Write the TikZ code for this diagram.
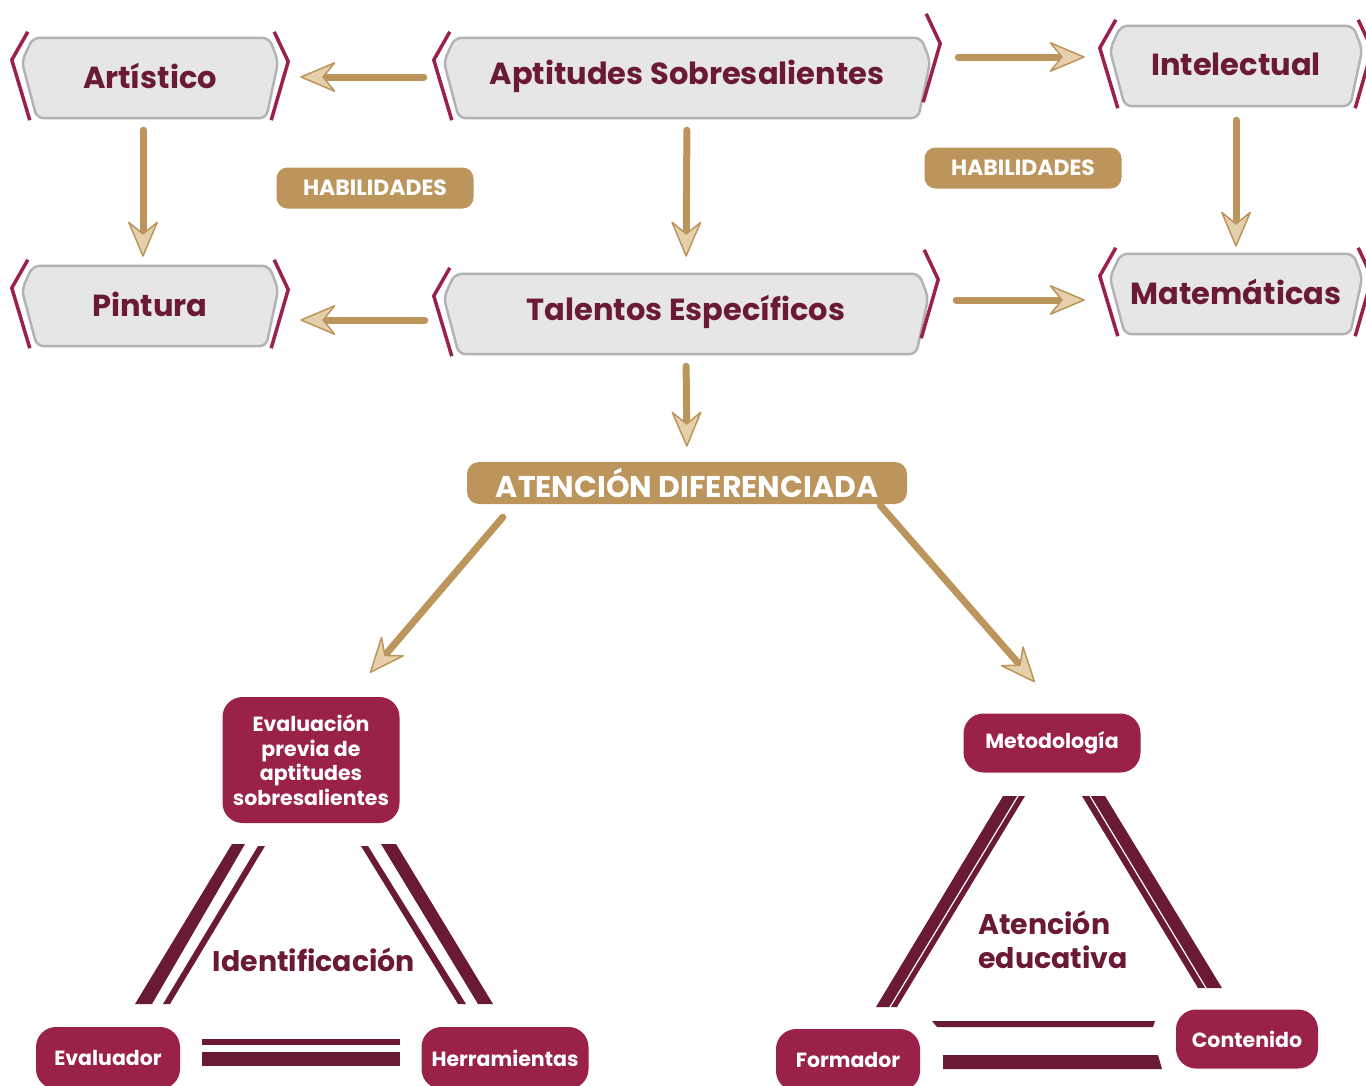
\documentclass[tikz,border=0pt]{standalone}
\usepackage{fontspec}
\setmainfont{Poppins}
\usetikzlibrary{arrows.meta,calc,backgrounds}
\definecolor{frame}{HTML}{9B2247}
\definecolor{txtred}{HTML}{6B1A35}
\definecolor{bar}{HTML}{6A1A33}
\definecolor{gold}{HTML}{BC955C}
\definecolor{tipfill}{HTML}{E6CFAB}
\definecolor{boxgrey}{HTML}{E6E6E6}
\definecolor{linegrey}{HTML}{B3B3B3}
\tikzset{
  hexbox/.style={minimum width=#1, minimum height=80pt, inner sep=0pt,
    text=txtred, font=\fontsize{30.5}{36}\selectfont\bfseries},
  greyframe/.style={fill=boxgrey, draw=linegrey, line width=2.5pt, rounded corners=7pt},
  bracket/.style={draw=frame, line width=3.5pt, line join=round},
  goldpill/.style={fill=gold, text=white, rounded corners=11pt, inner sep=0pt,
    minimum width=197pt, minimum height=41pt, font=\fontsize{22}{26}\selectfont\bfseries},
  redbox/.style={fill=frame, text=white, rounded corners=20pt, inner sep=0pt,
    font=\fontsize{20.5}{24.5}\selectfont\bfseries},
  trilabel/.style={text=txtred, font=\fontsize{28.4}{34}\selectfont\bfseries, inner sep=0pt},
  goldarrow/.style={draw=gold, line width=7pt, line cap=round,
    -{Stealth[length=38pt, width=32pt, inset=13pt, fill=tipfill, line width=1.5pt, round]}}
}
\begin{document}
\begin{tikzpicture}[x=1pt,y=-1pt]
\useasboundingbox (0,0) rectangle (1366,1085);

% upper boxes
\node[hexbox=256pt] (art) at (150,76) {Artístico};
\node[hexbox=486pt] (apt) at (687,76) {Aptitudes Sobresalientes};
\node[hexbox=252pt] (int) at (1236,64) {Intelectual};
\node[hexbox=256pt] (pin) at (150,304) {Pintura};
\node[hexbox=484pt] (tal) at (686,312) {Talentos Específicos};
\node[hexbox=252pt] (mat) at (1236,292) {Matemáticas};

\begin{scope}[on background layer]
\foreach \n/\s in {art/0,apt/-18,int/0,pin/0,tal/-18,mat/0}{
  \draw[greyframe] ($(\n.north west)+(11,2)$) -- ($(\n.north west)!0.32!(\n.south west)$)
    -- ($(\n.south west)+(15,2)$) -- ($(\n.south east)+(-12,2)$)
    -- ($(\n.north east)!0.32!(\n.south east)$) -- ($(\n.north east)+(-9,2)$) -- cycle;
  \draw[bracket] ($(\n.north west)+(6,-4)$) -- ($(\n.north west)!0.3!(\n.south west)+(-10,0)$)
    -- ($(\n.south west)+(8,4)$);
  \draw[bracket] ($(\n.north east)+(-4,-4+\s)$) -- ($(\n.north east)!0.32!(\n.south east)+(10,\s)$)
    -- ($(\n.south east)+(-7,4+\s)$);
}
\end{scope}

\node[goldpill] (hab1) at (375,188) {HABILIDADES};
\node[goldpill] (hab2) at (1023,168) {HABILIDADES};
\node[goldpill, minimum width=440pt, minimum height=42pt, rounded corners=12pt,
  font=\fontsize{30}{34}\selectfont\bfseries] (att) at (687,483) {ATENCIÓN DIFERENCIADA};

% arrows
\draw[goldarrow, shorten <=20pt, shorten >=22pt] ([yshift=-1pt]apt.west) -- ([yshift=-1pt]art.east);
\draw[goldarrow, shorten <=28pt, shorten >=25pt] ([yshift=19pt]apt.east) -- ([yshift=7pt]int.west);
\draw[goldarrow, shorten <=14pt, shorten >=15pt] (apt.south) -- (tal.north);
\draw[goldarrow, shorten <=14pt, shorten >=7pt] ([xshift=-7pt]art.south) -- ([xshift=-7pt]pin.north);
\draw[goldarrow, shorten <=16pt, shorten >=5pt] (int.south) -- (mat.north);
\draw[goldarrow, shorten <=19pt, shorten >=22pt] ([yshift=-8pt]tal.west) -- ([yshift=-16pt]pin.east);
\draw[goldarrow, shorten <=28pt, shorten >=25pt] ([yshift=12pt]tal.east) -- ([yshift=-8pt]mat.west);
\draw[goldarrow, shorten <=14pt, shorten >=15pt] (tal.south) -- (att.north);

% lower boxes
\node[redbox, minimum width=177pt, minimum height=126pt, align=center] (eva) at (311,760)
  {Evaluación\\previa de\\aptitudes\\sobresalientes};
\node[redbox, minimum width=177pt, minimum height=59pt] (met) at (1052,743) {Metodología};
\node[redbox, minimum width=144pt, minimum height=62pt] (evr) at (108,1058) {Evaluador};
\node[redbox, minimum width=167pt, minimum height=62pt] (her) at (505,1058) {Herramientas};
\node[redbox, minimum width=144pt, minimum height=62pt] (frm) at (848,1060) {Formador};
\node[redbox, minimum width=142pt, minimum height=59pt] (con) at (1247,1039) {Contenido};

\draw[goldarrow] ($(att.south west)+(36,13)$) -- ($(eva.north)+(59,-24)$);
\draw[goldarrow] ($(att.south east)+(-27,1)$) -- ($(met.north)+(-17,-31)$);

% triangle left
\fill[bar] (232,844) -- (245,844) -- (152,1004) -- (135,1004) -- cycle;
\fill[bar] (258,846) -- (265,846) -- (170,1004) -- (163,1004) -- cycle;
\fill[bar] (361,846) -- (368,846) -- (466,1004) -- (458,1004) -- cycle;
\fill[bar] (381,844) -- (396,844) -- (493,1004) -- (478,1004) -- cycle;
\fill[bar] (202,1039) rectangle (400,1045);
\fill[bar] (202,1052) rectangle (400,1066);
\node[trilabel] (idf) at (314,960) {Identificación};

% triangle right
\fill[bar] (1003,796) -- (1025,796) -- (897,1007) -- (876,1007) -- cycle;
\draw[white, line width=1.2pt] (1018,796) -- (890,1007);
\fill[bar] (1082,796) -- (1105,796) -- (1222,988) -- (1198,988) -- cycle;
\draw[white, line width=1.2pt] (1090,796) -- (1206,988);
\fill[bar] (932,1021) -- (1155,1021) -- (1153,1027) -- (937,1027) -- cycle;
\fill[bar] (943,1055) -- (1158,1055) -- (1162,1069) -- (943,1069) -- cycle;
\node[trilabel, align=left] (aed) at (1053,940) {Atención\\educativa};
\end{tikzpicture}
\end{document}
